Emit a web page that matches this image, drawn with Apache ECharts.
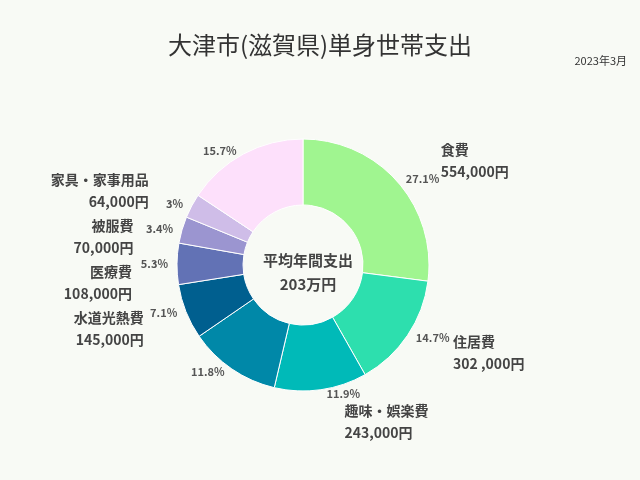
<!DOCTYPE html>
<html><head><meta charset="utf-8">
<script src="https://cdn.jsdelivr.net/npm/echarts@6/dist/echarts.min.js"></script>
<style>html,body{margin:0;padding:0;background:#f8faf5}#c{width:640px;height:480px}</style>
</head><body><div id="c"></div>
<script>
const categories=['食費','住居費','趣味・娯楽費','交通・通信費','水道光熱費','医療費','被服費','家具・家事用品','その他諸雑費'];
const values=[554000,302000,243000,241000,145000,108000,70000,64000,321000];
const valueLabels=['554,000円','302 ,000円','243,000円','241,000円','145,000円','108,000円','70,000円','64,000円','321,000円'];
const percentLabels=['27.1%','14.7%','11.9%','11.8%','7.1%','5.3%','3.4%','3%','15.7%'];
const colors=['#a0f590','#2ddfae','#00bab8','#0088a8','#005f8f','#6272b5','#9b95d0','#cfbde8','#fde0fb'];
const chart=echarts.init(document.getElementById('c'));
const ff='"Noto Sans CJK JP", sans-serif';
chart.setOption({
 backgroundColor:'#f8faf5',
 color:colors,
 title:[{text:'大津市(滋賀県)単身世帯支出',left:'center',top:28,textStyle:{fontSize:24,fontWeight:'normal',color:'#333',fontFamily:ff}},
  {text:'2023年3月',right:8,top:50,textStyle:{fontSize:11,fontWeight:'normal',color:'#333',fontFamily:ff}},
  {text:'平均年間支出\n203万円',left:303,top:243,textAlign:'center',textStyle:{fontSize:15,fontWeight:'bold',color:'#444',lineHeight:24,fontFamily:ff}}],
 series:[
  {type:'pie',center:[303,265],radius:[60,126],startAngle:90,silent:true,
   itemStyle:{borderColor:'#fff',borderWidth:1},
   label:{position:'outside',formatter:p=>percentLabels[p.dataIndex],fontSize:11,fontWeight:'bold',color:'#555',fontFamily:ff},
   labelLine:{show:false,length:4,length2:0},
   data:categories.map((c,i)=>({name:c,value:values[i]}))},
  {type:'pie',center:[303,265],radius:[60,126],startAngle:90,silent:true,
   itemStyle:{color:'rgba(0,0,0,0)'},
   label:{position:'outside',formatter:p=>p.name+'\n'+valueLabels[p.dataIndex],fontSize:14,fontWeight:'bold',color:'#444',lineHeight:22,fontFamily:ff,align:'center'},
   labelLine:{show:false,length:32,length2:14},
   data:categories.map((c,i)=>({name:c,value:values[i]}))}
 ]
});
</script></body></html>
